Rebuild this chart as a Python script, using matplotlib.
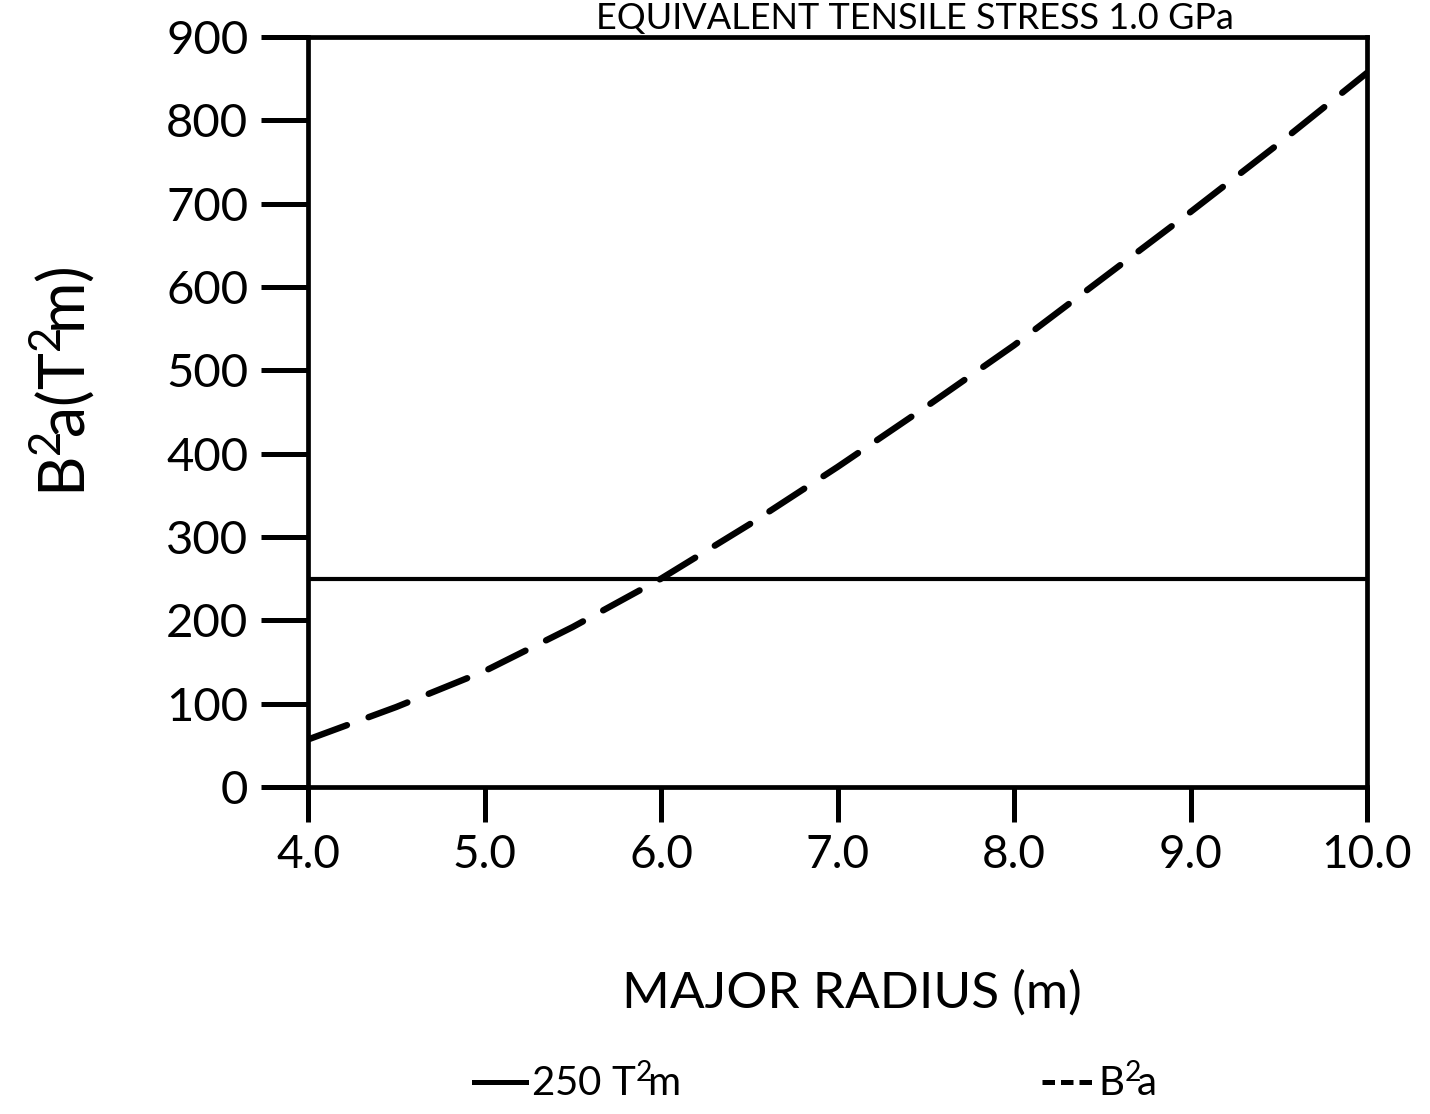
import matplotlib
matplotlib.use("Agg")
import matplotlib.pyplot as plt
from matplotlib.lines import Line2D

# Data
radius = [4.0, 4.5, 5.0, 5.5, 6.0, 6.5, 7.0, 7.5, 8.0, 8.5, 9.0, 9.5, 10.0]
b2a = [57, 96, 139, 192, 250, 315, 384, 456, 530, 610, 690, 772, 857]
limit_value = 250
x_ticks = [4.0, 5.0, 6.0, 7.0, 8.0, 9.0, 10.0]
x_ticklabels = ["4.0", "5.0", "6.0", "7.0", "8.0", "9.0", "10.0"]
y_ticks = [0, 100, 200, 300, 400, 500, 600, 700, 800, 900]
title = "EQUIVALENT TENSILE STRESS 1.0 GPa"
xlabel = "MAJOR RADIUS (m)"
ylabel = r"B$^2\!$a(T$^2\!$m)"
legend_labels = [r"250 T$^2\!$m", r"B$^2\!$a"]

plt.rcParams['font.family'] = ['Lato', 'DejaVu Sans']
plt.rcParams['mathtext.fontset'] = 'custom'
plt.rcParams['mathtext.rm'] = 'Lato'
plt.rcParams['mathtext.it'] = 'Lato'
plt.rcParams['mathtext.default'] = 'regular'

W, H = 1430, 1114
fig = plt.figure(figsize=(W / 100, H / 100), dpi=100)
ax = fig.add_axes([308 / W, 1 - 787 / H, (1367 - 308) / W, (787 - 37) / H])

ax.axhline(limit_value, color='black', lw=3.0, solid_capstyle='butt')
ax.plot(radius, b2a, color='black', lw=4.6, dashes=(6.5, 3.6), dash_capstyle='round')

ax.set_xlim(4.0, 10.0)
ax.set_ylim(0, 900)
ax.set_xticks(x_ticks)
ax.set_xticklabels(x_ticklabels)
ax.set_yticks(y_ticks)

for s in ax.spines.values():
    s.set_linewidth(3.4)
ax.tick_params(axis='y', direction='out', length=34, width=3.6, pad=9, labelsize=34)
ax.tick_params(axis='x', direction='out', length=25, width=3.6, pad=9, labelsize=33)

ax.set_ylabel(ylabel, fontsize=45, labelpad=14)
ax.yaxis.set_label_coords(-0.2, 0.54)

fig.text(852 / W, 1 - 993 / H, xlabel, fontsize=37, ha='center', va='center')

fig.text(915 / W, 1 - 29 / H, title, fontsize=26, ha='center', va='baseline')

handles = [Line2D([], [], color='black', lw=3.6),
           Line2D([], [], color='black', lw=3.6, dashes=(2.5, 1.2))]
fig.legend(handles, legend_labels, loc='center', bbox_to_anchor=(815 / W, 1 - 1083 / H),
           ncol=2, frameon=False, fontsize=29, handlelength=1.3, handletextpad=0.1,
           columnspacing=9.0)

fig.savefig("out.png", dpi=100)
